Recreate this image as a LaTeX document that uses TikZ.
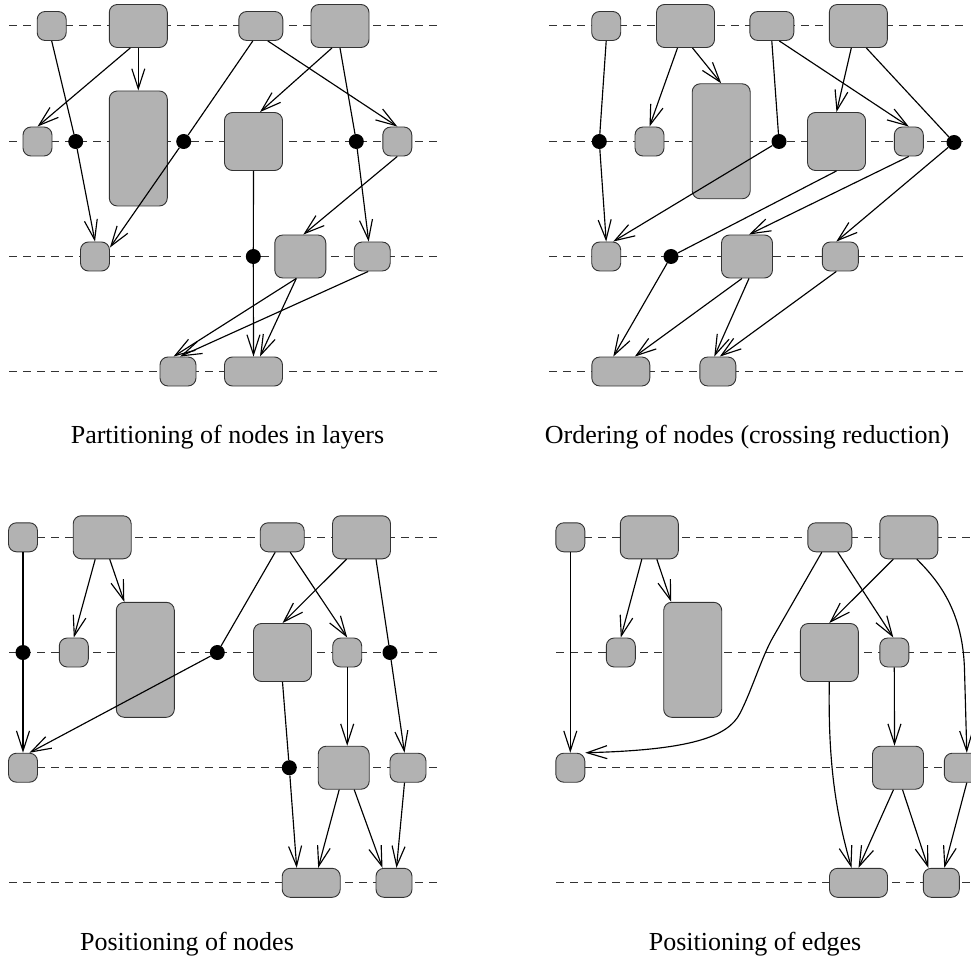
\documentclass[tikz,border=0pt]{standalone}
\usepackage{fontspec}
\setmainfont{Liberation Serif}
\usetikzlibrary{arrows.meta}
\begin{document}
\begin{tikzpicture}[x=1pt,y=-1pt,
  box/.style={draw=black!80,fill=black!30,line width=0.9pt,rounded corners=8pt,inner sep=0pt},
  sm/.style={box,minimum width=29pt,minimum height=29pt},
  wd/.style={box,minimum width=44pt,minimum height=29pt},
  lg/.style={box,minimum width=58pt,minimum height=43pt},
  tall/.style={box,minimum width=58pt,minimum height=115pt},
  sq/.style={box,minimum width=58pt,minimum height=58pt},
  mid/.style={box,minimum width=51pt,minimum height=43pt},
  nar/.style={box,minimum width=36pt,minimum height=29pt},
  flat/.style={box,minimum width=58pt,minimum height=29pt},
  dummy/.style={circle,fill=black,minimum size=15pt,inner sep=0pt},
  layer/.style={draw=black!80,line width=1pt,dash pattern=on 8pt off 6pt},
  edge/.style={line width=1.15pt,-{Straight Barb[length=20pt,width=13pt]}},
  caption/.style={anchor=base,font=\fontsize{26}{30}\selectfont}]
\useasboundingbox (0,0) rectangle (971,957);

% ---------- layer guide lines ----------
\foreach \y in {26,141.5,256.5,371.5} {
  \draw[layer] (9,\y) -- (438,\y);
  \draw[layer] (549,\y) -- (965,\y);
}
\foreach \y in {537.3,652.5,767.7,882.8} {
  \draw[layer] (9,\y) -- (438,\y);
  \draw[layer] (556,\y) -- (975,\y);
}

% ================= Partitioning of nodes in layers =================
\node[sm]   (aA) at (51.7,26) {};
\node[lg]   (aB) at (138.3,26) {};
\node[wd]   (aC) at (260.8,26) {};
\node[lg]   (aD) at (340,26) {};
\node[sm]   (aE) at (37.5,141.5) {};
\node[tall] (aF) at (138.3,148.5) {};
\node[sq]   (aG) at (253.5,141.5) {};
\node[sm]   (aH) at (397.3,141.5) {};
\node[sm]   (aI) at (95,256.5) {};
\node[mid]  (aJ) at (300.3,256.5) {};
\node[nar]  (aK) at (372.2,256.5) {};
\node[nar]  (aL) at (178,371.5) {};
\node[flat] (aM) at (253.5,371.5) {};
\node[dummy] (ad1) at (75.7,141.5) {};
\node[dummy] (ad2) at (183.7,141.5) {};
\node[dummy] (ad3) at (356.3,141.5) {};
\node[dummy] (ad4) at (253.3,256.5) {};

\draw[edge] (aA.south) -- (ad1) -- (aI.north);
\draw[edge] ([xshift=-8pt]aB.south) -- (aE.north);
\draw[edge] (aB.south) -- (aF.north);
\draw[edge] ([xshift=-8pt]aC.south) -- (ad2) -- ([yshift=-6pt]aI.north east);
\draw[edge] ([xshift=7pt]aC.south) -- (aH.north);
\draw[edge] ([xshift=-8pt]aD.south) -- ([xshift=6.5pt]aG.north);
\draw[edge] (aD.south) -- (ad3) -- ([xshift=-3.5pt]aK.north);
\draw[edge] (aG.south) -- (ad4) -- (aM.north);
\draw[edge] (aH.south) -- ([xshift=3pt]aJ.north);
\draw[edge] ([xshift=-4pt]aJ.south) -- ([xshift=-4.5pt]aL.north);
\draw[edge] ([xshift=-4pt]aJ.south) -- ([xshift=6.5pt]aM.north);
\draw[edge] ([xshift=-4pt]aK.south) -- ([xshift=2pt]aL.north);

\node[caption] (capa) at (227.5,443.3) {Partitioning of nodes in layers};

% ================= Ordering of nodes =================
\node[sm]   (bA) at (606.2,26) {};
\node[lg]   (bB) at (685.5,26) {};
\node[wd]   (bC) at (771.8,26) {};
\node[lg]   (bD) at (858.3,26) {};
\node[sm]   (bE) at (649.5,141.5) {};
\node[tall] (bF) at (721.2,141.3) {};
\node[sq]   (bG) at (836.5,141.5) {};
\node[sm]   (bH) at (908.8,141.5) {};
\node[sm]   (bI) at (606.2,256.5) {};
\node[mid]  (bJ) at (747,256.5) {};
\node[nar]  (bK) at (840.3,256.5) {};
\node[flat] (bM) at (620.8,371.5) {};
\node[nar]  (bL) at (717.8,371.5) {};
\node[dummy] (bd1) at (599.3,141.5) {};
\node[dummy] (bd2) at (779,141.5) {};
\node[dummy] (bd3) at (954,142.5) {};
\node[dummy] (bd4) at (671,256.5) {};

\draw[edge] (bA.south) -- (bd1) -- (bI.north);
\draw[edge] ([xshift=-8pt]bB.south) -- (bE.north);
\draw[edge] ([xshift=7pt]bB.south) -- (bF.north);
\draw[edge] (bC.south) -- (bd2) -- ([xshift=7pt]bI.north);
\draw[edge] ([xshift=7.5pt]bC.south) -- (bH.north);
\draw[edge] ([xshift=-7pt]bD.south) -- (bG.north);
\draw[edge] ([xshift=8pt]bD.south) -- (bd3) -- ([xshift=-4pt]bK.north);
\draw[edge] (bG.south) -- (bd4) -- ([xshift=-7.5pt]bM.north);
\draw[edge] (bH.south) -- ([xshift=2pt]bJ.north);
\draw[edge] ([xshift=-5pt]bJ.south) -- ([xshift=14pt]bM.north);
\draw[edge] ([xshift=2pt]bJ.south) -- ([xshift=-3.5pt]bL.north);
\draw[edge] ([xshift=-4pt]bK.south) -- ([xshift=2pt]bL.north);

\node[caption] (capb) at (747,443.3) {Ordering of nodes (crossing reduction)};

% ================= Positioning of nodes =================
\node[sm]   (cA) at (23,537.3) {};
\node[lg]   (cB) at (102.2,537.3) {};
\node[wd]   (cC) at (282.2,537.3) {};
\node[lg]   (cD) at (361.5,537.3) {};
\node[sm]   (cE) at (73.8,652.5) {};
\node[tall] (cF) at (145.3,659.8) {};
\node[sq]   (cG) at (282.5,652.5) {};
\node[sm]   (cH) at (347.2,652.5) {};
\node[sm]   (cI) at (23,767.7) {};
\node[mid]  (cJ) at (343.7,767.7) {};
\node[nar]  (cK) at (408,767.7) {};
\node[flat] (cM) at (311.2,882.8) {};
\node[nar]  (cL) at (394,882.8) {};
\node[dummy] (cd1) at (23,652.5) {};
\node[dummy] (cd2) at (217.3,652.5) {};
\node[dummy] (cd3) at (390,652.5) {};
\node[dummy] (cd4) at (289.3,767.7) {};

\draw[edge] (cA.south) -- (cd1) -- (cI.north);
\draw[edge] ([xshift=-7pt]cB.south) -- (cE.north);
\draw[edge] ([xshift=7.5pt]cB.south) -- ([xshift=-21pt]cF.north);
\draw[edge] ([xshift=-7pt]cC.south) -- (cd2) -- ([xshift=6.5pt]cI.north);
\draw[edge] ([xshift=8pt]cC.south) -- (cH.north);
\draw[edge] ([xshift=-15pt]cD.south) -- (cG.north);
\draw[edge] ([xshift=14.5pt]cD.south) -- (cd3) -- ([xshift=-3.5pt]cK.north);
\draw[edge] (cG.south) -- (cd4) -- ([xshift=-14.5pt]cM.north);
\draw[edge] (cH.south) -- ([xshift=3.5pt]cJ.north);
\draw[edge] ([xshift=-4.5pt]cJ.south) -- ([xshift=7pt]cM.north);
\draw[edge] ([xshift=10.5pt]cJ.south) -- ([xshift=-11.5pt]cL.north);
\draw[edge] ([xshift=-3.5pt]cK.south) -- ([xshift=2.5pt]cL.north);

\node[caption] (capc) at (187,950) {Positioning of nodes};

% ================= Positioning of edges =================
\node[sm]   (dA) at (570.3,537.3) {};
\node[lg]   (dB) at (649.3,537.3) {};
\node[wd]   (dC) at (829.8,537.3) {};
\node[lg]   (dD) at (908.8,537.3) {};
\node[sm]   (dE) at (620.8,652.5) {};
\node[tall] (dF) at (692.7,659.8) {};
\node[sq]   (dG) at (829.3,652.5) {};
\node[sm]   (dH) at (894.3,652.5) {};
\node[sm]   (dI) at (570.3,767.7) {};
\node[mid]  (dJ) at (898,767.7) {};
\node[nar]  (dK) at (962.3,767.7) {};
\node[flat] (dM) at (858.5,882.8) {};
\node[nar]  (dL) at (941.3,882.8) {};

\draw[edge] (dA.south) -- (dI.north);
\draw[edge] ([xshift=-7.5pt]dB.south) -- (dE.north);
\draw[edge] ([xshift=7.5pt]dB.south) -- ([xshift=-21.5pt]dF.north);
\draw[edge] ([xshift=-8pt]dC.south) -- (773.3,636.7)
  .. controls (762,656) and (752,690) .. (740,713.3)
  .. controls (728,737) and (690,750) .. (dI.north east);
\draw[edge] ([xshift=8pt]dC.south) -- ([xshift=-1pt]dH.north);
\draw[edge] ([xshift=-15.5pt]dD.south) -- (dG.north);
\draw[edge] ([xshift=8pt]dD.south) .. controls (942,584) and (963,615) .. (964.5,670)
  -- ([xshift=4.5pt]dK.north);
\draw[edge] (dG.south) .. controls (828,760) and (835,810) .. ([xshift=-7pt]dM.north);
\draw[edge] (dH.south) -- ([xshift=-3.5pt]dJ.north);
\draw[edge] ([xshift=-4.5pt]dJ.south) -- (dM.north);
\draw[edge] ([xshift=4.5pt]dJ.south) -- ([xshift=-13pt]dL.north);
\draw[edge] ([xshift=4.5pt]dK.south) -- ([xshift=3pt]dL.north);

\node[caption] (capd) at (755,950) {Positioning of edges};
\end{tikzpicture}
\end{document}
